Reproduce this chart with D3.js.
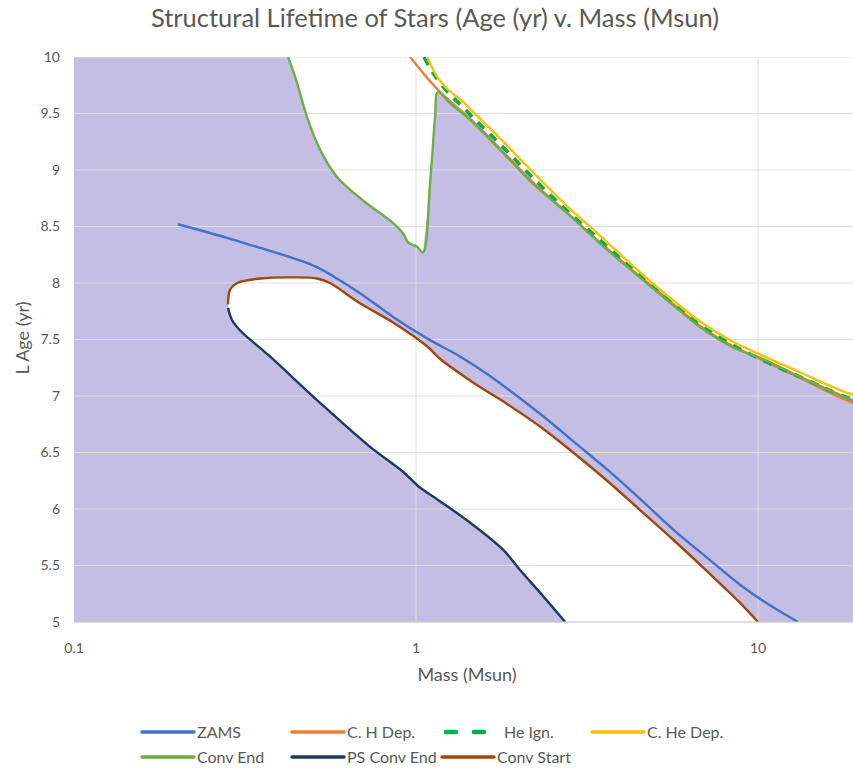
<!DOCTYPE html>
<html>
<head>
<meta charset="utf-8">
<script src="https://cdn.jsdelivr.net/npm/d3@7"></script>
<style>
  body { margin: 0; background: #fff; }
  svg { font-family: Lato, "Open Sans", sans-serif; }
</style>
</head>
<body>
<div id="viz"></div>
<script>
// series as [mass (Msun), log age (yr)] pairs
var zams = [[0.2014,8.52],[0.28,8.40],[0.35,8.31],[0.437,8.22],[0.513,8.14],[0.587,8.04],[0.686,7.91],
    [0.857,7.70],[1.077,7.51],[1.345,7.35],[1.613,7.195],[2.014,6.98],[2.515,6.75],[2.88,6.60],[3.62,6.35],
    [4.52,6.09],[5.64,5.82],[7.09,5.57],[8.86,5.33],[11.07,5.13],[13.1,5.0]];
var cHDep = [[0.961,10.0],[1.159,9.71],[1.257,9.61],[1.409,9.48],[1.76,9.19],[2.198,8.89],[2.764,8.62],
    [3.45,8.36],[4.31,8.11],[5.42,7.86],[6.77,7.62],[8.45,7.44],[10.1,7.33],[13.27,7.16],[19.0,6.94],[20,6.92]];
var heIgn = [[1.055,10.0],[1.121,9.86],[1.409,9.52],[1.76,9.23],[2.198,8.93],[2.764,8.64],[3.45,8.38],
    [4.31,8.12],[5.42,7.86],[6.77,7.63],[8.45,7.45],[10.1,7.33],[13.27,7.17],[19.0,6.97],[20,6.95]];
var cHeDep = [[1.077,10.0],[1.121,9.89],[1.409,9.57],[1.76,9.28],[2.198,8.98],[2.764,8.68],[3.45,8.42],
    [4.31,8.15],[5.42,7.89],[6.77,7.66],[8.45,7.48],[10.1,7.37],[13.27,7.21],[19.0,7.01],[20,6.99]];
var convEnd = [[0.423,10.0],[0.449,9.77],[0.48,9.47],[0.524,9.18],[0.587,8.94],[0.70,8.73],[0.857,8.53],
    [0.916,8.44],[0.948,8.36],[1.007,8.32],[1.048,8.27],[1.099,8.88],[1.137,9.47],[1.159,9.69],[1.257,9.59],
    [1.409,9.47],[1.76,9.18],[2.198,8.88],[2.764,8.62],[3.45,8.35],[4.31,8.10],[5.42,7.85],[6.77,7.61],
    [8.45,7.43],[10.1,7.34],[13.27,7.17],[19.0,6.96],[20,6.94]];
var psConvEnd = [[0.282,7.78],[0.29,7.67],[0.306,7.58],[0.374,7.35],[0.524,6.94],[0.734,6.55],[0.916,6.33],
    [1.027,6.19],[1.16,6.08],[1.438,5.88],[1.797,5.64],[2.014,5.46],[2.305,5.26],[2.73,5.0]];
var convStart = [[0.282,7.81],[0.286,7.94],[0.30,8.00],[0.35,8.04],[0.437,8.05],[0.513,8.04],[0.56,8.00],
    [0.686,7.82],[0.857,7.65],[1.077,7.44],[1.175,7.33],[1.468,7.12],[1.845,6.93],[2.305,6.73],[2.88,6.50],
    [3.62,6.25],[4.52,5.99],[5.64,5.73],[7.09,5.45],[8.86,5.17],[10.0,5.0]];

var yTicks = [5,5.5,6,6.5,7,7.5,8,8.5,9,9.5,10];
var xTicks = [0.1,1,10];
var minorTicks = [0.2,0.3,0.4,0.5,0.6,0.7,0.8,0.9,2,3,4,5,6,7,8,9,20];

var series = [
    {name:"ZAMS", data:zams, color:"#4472c4"},
    {name:"C. H Dep.", data:cHDep, color:"#ed7d31"},
    {name:"He Ign.", data:heIgn, color:"#00b050", dash:true},
    {name:"C. He Dep.", data:cHeDep, color:"#ffc000"},
    {name:"Conv End", data:convEnd, color:"#70ad47"},
    {name:"PS Conv End", data:psConvEnd, color:"#203864"},
    {name:"Conv Start", data:convStart, color:"#9e480e"}
];

var W = 853, H = 769;
var svg = d3.select("#viz").append("svg").attr("width",W).attr("height",H);

var x = d3.scaleLog().domain([0.1,20]).range([74,861]);
var y = d3.scaleLinear().domain([5,10]).range([622,57]);

svg.append("defs").append("clipPath").attr("id","plot")
    .append("rect").attr("x",74).attr("y",57).attr("width",787).attr("height",565);

var plot = svg.append("g").attr("clip-path","url(#plot)");

// minor ticks on the x axis (inside)
plot.selectAll(".minor").data(minorTicks).enter().append("line")
    .attr("x1",function(d){return x(d);}).attr("x2",function(d){return x(d);})
    .attr("y1",y(5)).attr("y2",y(5)-5)
    .attr("stroke","#bfbfbf");

// purple region: under the Conv End curve, minus the Conv Start / PS Conv End loop
var upper = [[0.1,10]].concat(convEnd).concat([[20,5],[0.1,5]]);
var poly = d3.line().x(function(d){return x(d[0]);}).y(function(d){return y(d[1]);});
plot.append("path").attr("d",poly(upper)+"Z").attr("fill","#c4bde4");

var hole = convStart.concat(psConvEnd.slice().reverse());
plot.append("path").attr("d",poly(hole)+"Z").attr("fill","#fff");

// gridlines
plot.selectAll(".hg").data(yTicks.slice(1)).enter().append("line")
    .attr("x1",74).attr("x2",861)
    .attr("y1",function(d){return y(d);}).attr("y2",function(d){return y(d);})
    .attr("stroke","#dedede").attr("stroke-width",1);
plot.selectAll(".vg").data([1,10]).enter().append("line")
    .attr("x1",function(d){return x(d);}).attr("x2",function(d){return x(d);})
    .attr("y1",57).attr("y2",622)
    .attr("stroke","#dedede").attr("stroke-width",1);
svg.append("line").attr("x1",74).attr("x2",861).attr("y1",y(5)).attr("y2",y(5))
    .attr("stroke","#bfbfbf");

// series lines
var line = d3.line().curve(d3.curveMonotoneX)
    .x(function(d){return x(d[0]);}).y(function(d){return y(d[1]);});
var lineFree = d3.line().curve(d3.curveCatmullRom.alpha(0.5))
    .x(function(d){return x(d[0]);}).y(function(d){return y(d[1]);});

series.forEach(function(s){
    var gen = (s.name=="Conv End" || s.name=="Conv Start" || s.name=="PS Conv End") ? lineFree : line;
    plot.append("path").attr("d",gen(s.data))
        .attr("fill","none")
        .attr("stroke",s.color)
        .attr("stroke-width",s.dash ? 3.6 : 2.4)
        .attr("stroke-dasharray",s.dash ? "9,8" : null)
        .attr("stroke-linejoin","round");
});

// axis labels
var txt = "#595959";
svg.selectAll(".yl").data(yTicks).enter().append("text")
    .attr("x",60).attr("y",function(d){return y(d);})
    .attr("dy","0.35em").attr("text-anchor","end")
    .attr("font-size",14).attr("fill",txt)
    .text(function(d){return d;});
svg.selectAll(".xl").data(xTicks).enter().append("text")
    .attr("x",function(d){return x(d);}).attr("y",648)
    .attr("dy","0.35em").attr("text-anchor","middle")
    .attr("font-size",14).attr("fill",txt)
    .text(function(d){return d;});

svg.append("text").attr("x",467).attr("y",675).attr("dy","0.35em")
    .attr("text-anchor","middle").attr("font-size",18).attr("fill",txt)
    .text("Mass (Msun)");
svg.append("text").attr("transform","translate(23,338) rotate(-90)")
    .attr("dy","0.35em").attr("text-anchor","middle").attr("font-size",18).attr("fill",txt)
    .text("L Age (yr)");

svg.append("text").attr("x",435).attr("y",18).attr("dy","0.35em")
    .attr("text-anchor","middle").attr("font-size",25.5).attr("fill",txt)
    .text("Structural Lifetime of Stars (Age (yr) v. Mass (Msun)");

// legend
var legX = [142,292,442,592];
var legend = svg.selectAll(".leg").data(series).enter().append("g")
    .attr("transform",function(d,i){
        var row = i<4 ? 0 : 1, col = i<4 ? i : i-4;
        return "translate("+legX[col]+","+(row==0 ? 732 : 757)+")";
    });
legend.append("line").attr("x1",0).attr("x2",52)
    .attr("stroke",function(d){return d.color;})
    .attr("stroke-width",function(d){return d.dash ? 4.5 : 3.5;})
    .attr("stroke-linecap","round")
    .attr("stroke-dasharray",function(d){return d.dash ? "10,18" : null;})
    .attr("transform",function(d){return d.dash ? "translate(4,0)" : null;});
legend.append("text").attr("x",function(d){return d.dash ? 62 : 55;}).attr("dy","0.35em")
    .attr("font-size",16).attr("fill",txt)
    .text(function(d){return d.name;});
</script>
</body>
</html>
